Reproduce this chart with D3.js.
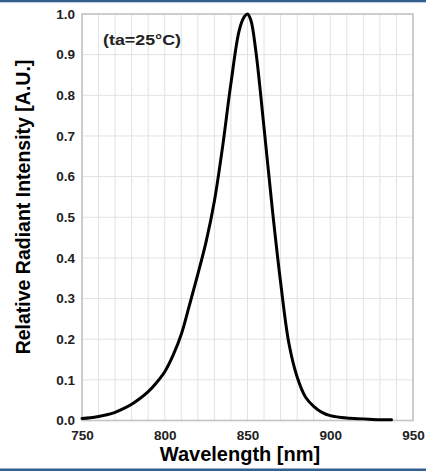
<!DOCTYPE html>
<html>
<head>
<meta charset="utf-8">
<script src="https://cdn.jsdelivr.net/npm/d3@7"></script>
<style>
	body { margin: 0; background: #fff; }
	svg { display: block; font-family: "Liberation Sans", Arial, sans-serif; }
</style>
</head>
<body>
<svg id="chart" width="426" height="471"></svg>
<script>
// spectrum
var wavelengths = [750, 755, 760, 765, 770, 775, 780, 785, 790, 795, 800, 805, 810, 815, 820, 825, 830, 835, 840, 845, 848, 850, 852, 855, 860, 865, 870, 875, 880, 885, 890, 895, 900, 910, 920, 930, 937];
var intensity = [0.005, 0.007, 0.010, 0.014, 0.020, 0.029, 0.040, 0.054, 0.071, 0.093, 0.120, 0.160, 0.212, 0.285, 0.360, 0.440, 0.540, 0.675, 0.830, 0.960, 0.993, 1.000, 0.985, 0.910, 0.720, 0.520, 0.340, 0.190, 0.107, 0.058, 0.035, 0.020, 0.012, 0.006, 0.004, 0.002, 0.002];

var xTicks = [750, 800, 850, 900, 950];
var yTicks = [0, 0.1, 0.2, 0.3, 0.4, 0.5, 0.6, 0.7, 0.8, 0.9, 1.0];
var xGrid = d3.range(750, 951, 10);

var xTitle = "Wavelength [nm]";
var yTitle = "Relative Radiant Intensity [A.U.]";
var note = "(ta=25°C)";

var W = 426, H = 471;
var plot = { left: 82, right: 413, top: 14, bottom: 420.5 };

var svg = d3.select("#chart");

var x = d3.scaleLinear().domain([750, 950]).range([plot.left, plot.right]);
var y = d3.scaleLinear().domain([0, 1]).range([plot.bottom, plot.top]);

// blue rules top and bottom
svg.append("rect").attr("x", 0).attr("y", 0).attr("width", W).attr("height", 2.3).attr("fill", "#34608f");
svg.append("rect").attr("x", 0).attr("y", 468.5).attr("width", W).attr("height", 2.5).attr("fill", "#34608f");

// grid
svg.append("g").selectAll("line").data(xGrid).enter().append("line")
	.attr("x1", function(d){ return x(d); })
	.attr("x2", function(d){ return x(d); })
	.attr("y1", plot.top).attr("y2", plot.bottom)
	.attr("stroke", "#e2e2e2").attr("stroke-width", 1);

svg.append("g").selectAll("line").data(yTicks).enter().append("line")
	.attr("x1", plot.left).attr("x2", plot.right)
	.attr("y1", function(d){ return y(d); })
	.attr("y2", function(d){ return y(d); })
	.attr("stroke", "#e2e2e2").attr("stroke-width", 1);

// frame
svg.append("rect")
	.attr("x", plot.left).attr("y", plot.top)
	.attr("width", plot.right - plot.left).attr("height", plot.bottom - plot.top)
	.attr("fill", "none").attr("stroke", "#c4c4c4").attr("stroke-width", 1.6);

// axes, labels only
var xAxis = svg.append("g")
	.attr("transform", "translate(0," + plot.bottom + ")")
	.call(d3.axisBottom(x).tickValues(xTicks).tickSize(0).tickPadding(10));

var yAxis = svg.append("g")
	.attr("transform", "translate(" + plot.left + ",0)")
	.call(d3.axisLeft(y).tickValues(yTicks).tickSize(0).tickPadding(7).tickFormat(d3.format(".1f")));

xAxis.select(".domain").remove();
yAxis.select(".domain").remove();

svg.selectAll(".tick text")
	.attr("font-family", "'Liberation Sans', Arial, sans-serif")
	.attr("font-size", 13.5)
	.attr("font-weight", "bold")
	.attr("fill", "#222");

// spectrum curve
var pts = wavelengths.map(function(w, i){ return [w, intensity[i]]; });

var line = d3.line()
	.x(function(d){ return x(d[0]); })
	.y(function(d){ return y(d[1]); })
	.curve(d3.curveCatmullRom.alpha(0.5));

svg.append("path")
	.datum(pts)
	.attr("d", line)
	.attr("fill", "none")
	.attr("stroke", "#000")
	.attr("stroke-width", 3)
	.attr("stroke-linejoin", "round")
	.attr("stroke-linecap", "round");

// titles
svg.append("text")
	.attr("x", 240).attr("y", 461)
	.attr("text-anchor", "middle")
	.attr("font-size", 20).attr("font-weight", "bold")
	.attr("fill", "#000")
	.text(xTitle);

svg.append("text")
	.attr("transform", "translate(30,207) rotate(-90)")
	.attr("text-anchor", "middle")
	.attr("font-size", 19.5).attr("font-weight", "bold")
	.attr("fill", "#000")
	.text(yTitle);

svg.append("text")
	.attr("x", 103).attr("y", 45)
	.attr("font-size", 14.5).attr("font-weight", "bold")
	.attr("textLength", 78).attr("lengthAdjust", "spacingAndGlyphs")
	.attr("fill", "#222")
	.text(note);
</script>
</body>
</html>
